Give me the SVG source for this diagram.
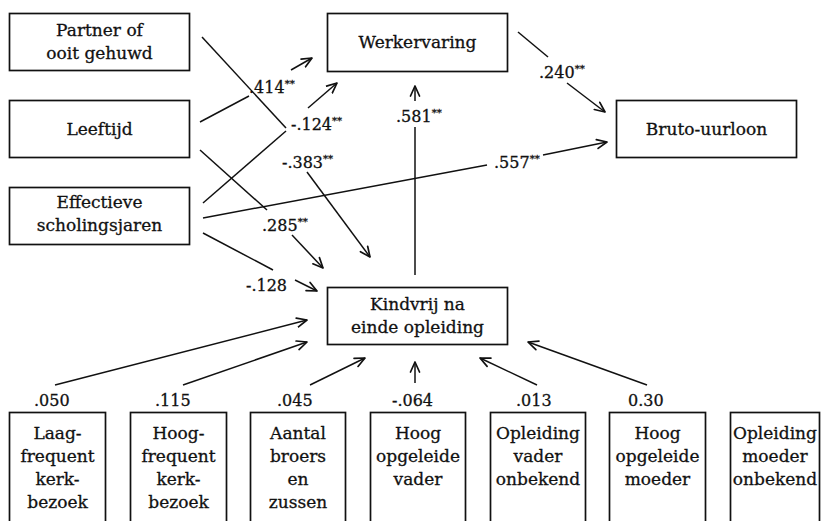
<svg xmlns="http://www.w3.org/2000/svg" width="821" height="521" viewBox="0 0 821 521">
<defs>
<marker id="ah" viewBox="0 0 12 12" refX="11" refY="6" markerWidth="12" markerHeight="12" markerUnits="userSpaceOnUse" orient="auto">
<path d="M1,1.5 L11,6 L1,10.5" fill="none" stroke="#111" stroke-width="1.7" stroke-linecap="round" stroke-linejoin="round"/>
</marker>
</defs>
<style>
.box{fill:#fff;stroke:#111;stroke-width:1.7}
.t{font-family:"DejaVu Serif","Liberation Serif",serif;font-size:17px;fill:#111;stroke:#111;stroke-width:0.3;text-anchor:middle}
.l{font-family:"DejaVu Serif","Liberation Serif",serif;font-size:16px;fill:#111;stroke:#111;stroke-width:0.3}
.s{font-size:10px}
.c{fill:none;stroke:#111;stroke-width:1.5}
.a{fill:none;stroke:#111;stroke-width:1.5;marker-end:url(#ah)}
</style>
<rect width="821" height="521" fill="#fff"/>
<g id="connectors">
<line class="c" x1="202" y1="37" x2="286" y2="128"/>
<line class="a" x1="307" y1="172" x2="370" y2="257"/>
<line class="c" x1="200" y1="122" x2="249" y2="96"/>
<line class="a" x1="291" y1="70" x2="312" y2="58"/>
<line class="c" x1="203" y1="203" x2="286" y2="131"/>
<line class="a" x1="308" y1="108" x2="337" y2="83"/>
<line class="c" x1="200" y1="150" x2="267" y2="210"/>
<line class="a" x1="292" y1="235" x2="323" y2="268"/>
<line class="c" x1="203" y1="233" x2="273" y2="270"/>
<line class="a" x1="295" y1="280" x2="317" y2="291"/>
<line class="c" x1="203" y1="218" x2="487" y2="165"/>
<line class="a" x1="543" y1="155" x2="607" y2="142"/>
<line class="c" x1="518" y1="32" x2="548" y2="57"/>
<line class="a" x1="567" y1="83" x2="605" y2="112"/>
<line class="c" x1="415" y1="275" x2="415" y2="127"/>
<line class="a" x1="415" y1="101" x2="415" y2="86"/>
<line class="a" x1="55" y1="385" x2="307" y2="320"/>
<line class="a" x1="183" y1="385" x2="307" y2="342"/>
<line class="a" x1="310" y1="385" x2="365" y2="358"/>
<line class="a" x1="415" y1="383" x2="415" y2="362"/>
<line class="a" x1="537" y1="385" x2="480" y2="358"/>
<line class="a" x1="647" y1="385" x2="528" y2="342"/>
<text class="l" x="249" y="93">.414<tspan class="s" dy="-6">**</tspan></text>
<text class="l" x="291" y="130">-.124<tspan class="s" dy="-6">**</tspan></text>
<text class="l" x="282" y="168">-.383<tspan class="s" dy="-6">**</tspan></text>
<text class="l" x="262" y="231">.285<tspan class="s" dy="-6">**</tspan></text>
<text class="l" x="246" y="291">-.128</text>
<text class="l" x="494" y="168">.557<tspan class="s" dy="-6">**</tspan></text>
<text class="l" x="539" y="78">.240<tspan class="s" dy="-6">**</tspan></text>
<text class="l" x="396" y="122">.581<tspan class="s" dy="-6">**</tspan></text>
<text class="l" x="34" y="406">.050</text>
<text class="l" x="155" y="406">.115</text>
<text class="l" x="277" y="406">.045</text>
<text class="l" x="392" y="406">-.064</text>
<text class="l" x="516" y="406">.013</text>
<text class="l" x="628" y="406">0.30</text>
</g>
<g id="partner"><rect class="box" x="9.5" y="13.5" width="180" height="57"/><text class="t" x="99.5" y="36">Partner of</text><text class="t" x="99.5" y="59">ooit gehuwd</text></g>
<g id="leeftijd"><rect class="box" x="9.5" y="100.5" width="180" height="57"/><text class="t" x="99.5" y="135">Leeftijd</text></g>
<g id="scholing"><rect class="box" x="9.5" y="187.5" width="180" height="57"/><text class="t" x="99.5" y="208">Effectieve</text><text class="t" x="99.5" y="231">scholingsjaren</text></g>
<g id="werkervaring"><rect class="box" x="327.5" y="13.5" width="180" height="58"/><text class="t" x="417.5" y="48">Werkervaring</text></g>
<g id="bruto"><rect class="box" x="616.5" y="100.5" width="180" height="57"/><text class="t" x="706.5" y="135">Bruto-uurloon</text></g>
<g id="kindvrij"><rect class="box" x="327.5" y="287.5" width="180" height="57"/><text class="t" x="417.5" y="310">Kindvrij na</text><text class="t" x="417.5" y="333">einde opleiding</text></g>
<g id="laag"><rect class="box" x="9.5" y="412.5" width="96" height="130"/><text class="t" x="57.5" y="439">Laag-</text><text class="t" x="57.5" y="462">frequent</text><text class="t" x="57.5" y="485">kerk-</text><text class="t" x="57.5" y="508">bezoek</text></g>
<g id="hoogfreq"><rect class="box" x="130.5" y="412.5" width="96" height="130"/><text class="t" x="178.5" y="439">Hoog-</text><text class="t" x="178.5" y="462">frequent</text><text class="t" x="178.5" y="485">kerk-</text><text class="t" x="178.5" y="508">bezoek</text></g>
<g id="broers"><rect class="box" x="250.5" y="412.5" width="95" height="130"/><text class="t" x="298" y="439">Aantal</text><text class="t" x="298" y="462">broers</text><text class="t" x="298" y="485">en</text><text class="t" x="298" y="508">zussen</text></g>
<g id="vader"><rect class="box" x="370.5" y="412.5" width="95" height="130"/><text class="t" x="418" y="439">Hoog</text><text class="t" x="418" y="462">opgeleide</text><text class="t" x="418" y="485">vader</text></g>
<g id="vaderonb"><rect class="box" x="490.5" y="412.5" width="95" height="130"/><text class="t" x="538" y="439">Opleiding</text><text class="t" x="538" y="462">vader</text><text class="t" x="538" y="485">onbekend</text></g>
<g id="moeder"><rect class="box" x="609.5" y="412.5" width="96" height="130"/><text class="t" x="657.5" y="439">Hoog</text><text class="t" x="657.5" y="462">opgeleide</text><text class="t" x="657.5" y="485">moeder</text></g>
<g id="moederonb"><rect class="box" x="730.5" y="412.5" width="89" height="130"/><text class="t" x="775" y="439">Opleiding</text><text class="t" x="775" y="462">moeder</text><text class="t" x="775" y="485">onbekend</text></g>
</svg>
